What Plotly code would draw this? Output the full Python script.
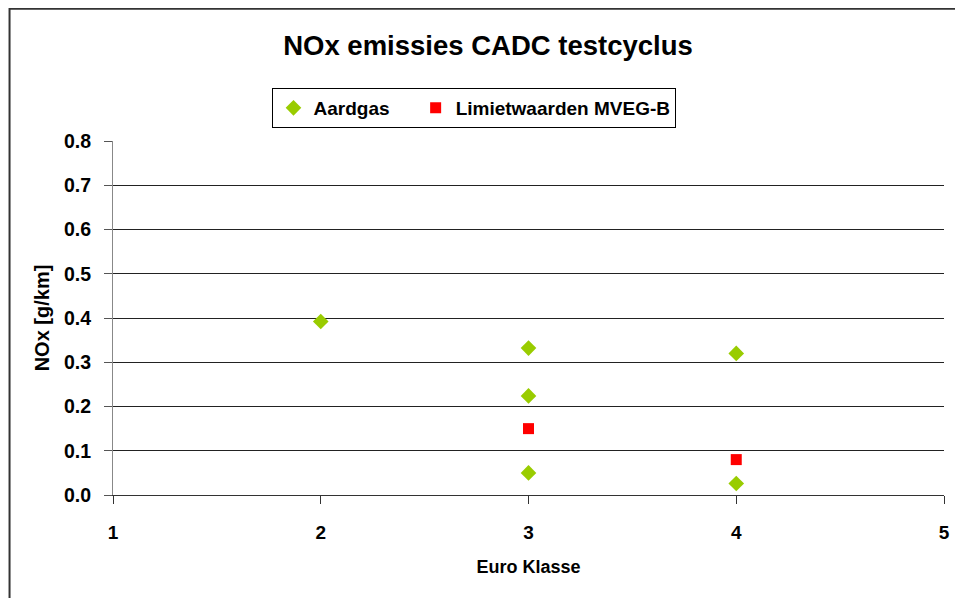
import plotly.graph_objects as go

# Data
aardgas_x = [2, 3, 3, 3, 4, 4]
aardgas_y = [0.392, 0.332, 0.224, 0.05, 0.32, 0.026]
limiet_x = [3, 4]
limiet_y = [0.15, 0.08]
x_ticks = [1, 2, 3, 4, 5]
y_ticks = [0.0, 0.1, 0.2, 0.3, 0.4, 0.5, 0.6, 0.7, 0.8]

FONT = "Liberation Sans, Arial, sans-serif"

fig = go.Figure()
fig.add_trace(go.Scatter(
    x=aardgas_x, y=aardgas_y, mode="markers", name="<b>Aardgas</b>\u00a0\u00a0\u00a0\u00a0",
    marker=dict(symbol="diamond", size=12, color="#99CC00", line=dict(width=0)),
))
fig.add_trace(go.Scatter(
    x=limiet_x, y=limiet_y, mode="markers", name="<b>Limietwaarden MVEG-B</b>",
    marker=dict(symbol="square", size=11, color="#FF0000", line=dict(width=0)),
))

fig.update_layout(
    width=955, height=590,
    margin=dict(l=105, r=19, t=133, b=103),
    paper_bgcolor="white", plot_bgcolor="white",
    font=dict(family=FONT, color="black"),
    title=dict(text="<b>NOx emissies CADC testcyclus</b>", x=0.5026, xanchor="center",
               xref="container", y=0.937, yanchor="middle", yref="container",
               font=dict(size=27.5, family=FONT, color="black")),
    showlegend=True,
    legend=dict(orientation="h", x=0.435, xanchor="center", y=1.1497, yanchor="top",
                bordercolor="black", borderwidth=1, bgcolor="white",
                font=dict(size=19, family=FONT, color="black"),
                itemwidth=30),
    xaxis=dict(range=[1, 5], tickvals=x_ticks, ticktext=[f"<b>{v}</b>" for v in x_ticks],
               showgrid=False, zeroline=False, showline=True, linecolor="#333333", linewidth=1,
               ticks="outside", ticklen=8, tickcolor="#333333", tickwidth=1,
               ticklabelstandoff=12,
               tickfont=dict(size=19, family=FONT, color="black"),
               title=dict(text="<b>Euro Klasse</b>", font=dict(size=18, family=FONT, color="black"),
                          standoff=18)),
    yaxis=dict(range=[0, 0.8], tickvals=y_ticks,
               ticktext=[f"<b>{v:.1f}</b>" for v in y_ticks],
               showgrid=True, gridcolor="#222222", gridwidth=1,
               zeroline=False, showline=True, linecolor="#888888", linewidth=1,
               ticks="outside", ticklen=8, tickcolor="#555555", tickwidth=1,
               ticklabelstandoff=9,
               tickfont=dict(size=19.5, family=FONT, color="black"),
               title=dict(text="<b>NOx [g/km]</b>", font=dict(size=20, family=FONT, color="black"),
                          standoff=8)),
)

# outer chart border (partially visible in reference)
fig.add_shape(type="rect", xref="paper", yref="paper",
              x0=-0.1245, x1=1.2, y0=-0.5, y1=1.3736,
              line=dict(color="#333333", width=2), fillcolor="rgba(0,0,0,0)", layer="below")

fig.write_html("out.html")
